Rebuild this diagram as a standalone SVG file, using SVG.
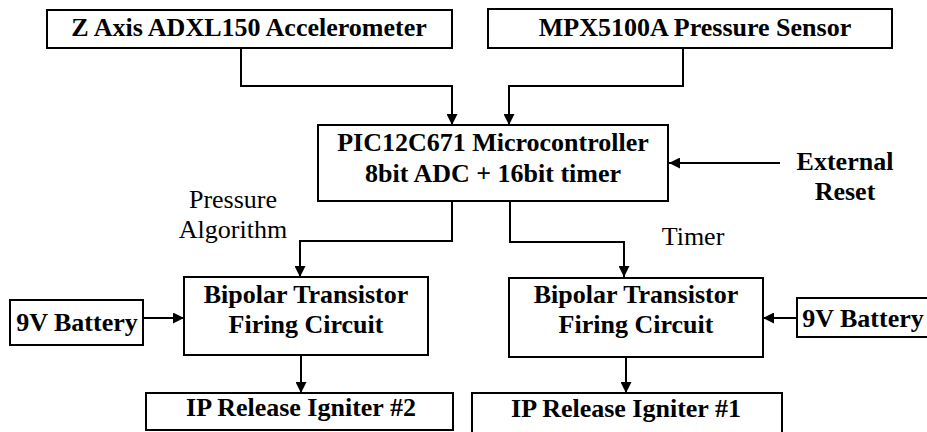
<svg xmlns="http://www.w3.org/2000/svg" width="927" height="432" viewBox="0 0 927 432">
<style>
.box{fill:#fff;stroke:#000;stroke-width:2}
.c{fill:none;stroke:#000;stroke-width:2}
</style>
<defs>
<marker id="ah" viewBox="0 0 10 10" markerWidth="11" markerHeight="11" markerUnits="userSpaceOnUse" refX="10" refY="5" orient="auto">
<path d="M0,0 L10,5 L0,10 z" fill="#000"/>
</marker>
</defs>
<rect width="927" height="432" fill="#fff"/>
<g id="connectors">
<path class="c" d="M241,48 V86 H452 V125" marker-end="url(#ah)"/>
<path class="c" d="M683,48 V86 H509 V125" marker-end="url(#ah)"/>
<path class="c" d="M452,201 V241 H300 V277" marker-end="url(#ah)"/>
<path class="c" d="M510,201 V242 H624 V277" marker-end="url(#ah)"/>
<path class="c" d="M780,163 H669" marker-end="url(#ah)"/>
<path class="c" d="M143,318 H184" marker-end="url(#ah)"/>
<path class="c" d="M797,318 H763" marker-end="url(#ah)"/>
<path class="c" d="M301,355 V393" marker-end="url(#ah)"/>
<path class="c" d="M626,357 V393" marker-end="url(#ah)"/>
</g>
<g font-family="Liberation Serif, DejaVu Serif, serif" font-size="26" text-anchor="middle" fill="#000">
<g id="accel">
<rect class="box" x="47" y="10" width="405" height="38"/>
<text font-weight="bold" x="249" y="36">Z Axis ADXL150 Accelerometer</text>
</g>
<g id="pressure-sensor">
<rect class="box" x="488" y="9" width="404" height="39"/>
<text font-weight="bold" x="695" y="36">MPX5100A Pressure Sensor</text>
</g>
<g id="micro">
<rect class="box" x="318" y="125" width="350" height="76"/>
<text font-weight="bold" x="493" y="151">PIC12C671 Microcontroller</text>
<text font-weight="bold" x="493" y="182">8bit ADC + 16bit timer</text>
</g>
<g id="ext-reset">
<text font-weight="bold" x="845" y="170">External</text>
<text font-weight="bold" x="845" y="200">Reset</text>
</g>
<g id="label-pressure-alg">
<text x="233" y="208">Pressure</text>
<text x="233" y="238">Algorithm</text>
</g>
<g id="label-timer">
<text x="693" y="245">Timer</text>
</g>
<g id="battery-left">
<rect class="box" x="10" y="300" width="133" height="45"/>
<text font-weight="bold" x="77" y="331">9V Battery</text>
</g>
<g id="firing-left">
<rect class="box" x="184" y="277" width="244" height="78"/>
<text font-weight="bold" x="306" y="303">Bipolar Transistor</text>
<text font-weight="bold" x="306" y="333">Firing Circuit</text>
</g>
<g id="firing-right">
<rect class="box" x="509" y="278" width="254" height="79"/>
<text font-weight="bold" x="636" y="303">Bipolar Transistor</text>
<text font-weight="bold" x="636" y="333">Firing Circuit</text>
</g>
<g id="battery-right">
<rect class="box" x="797" y="298" width="140" height="39"/>
<text font-weight="bold" x="863" y="327">9V Battery</text>
</g>
<g id="igniter2">
<rect class="box" x="146" y="393" width="307" height="37"/>
<text font-weight="bold" x="301" y="416">IP Release Igniter #2</text>
</g>
<g id="igniter1">
<rect class="box" x="472" y="393" width="310" height="45"/>
<text font-weight="bold" x="626" y="417">IP Release Igniter #1</text>
</g>
</g>
</svg>
